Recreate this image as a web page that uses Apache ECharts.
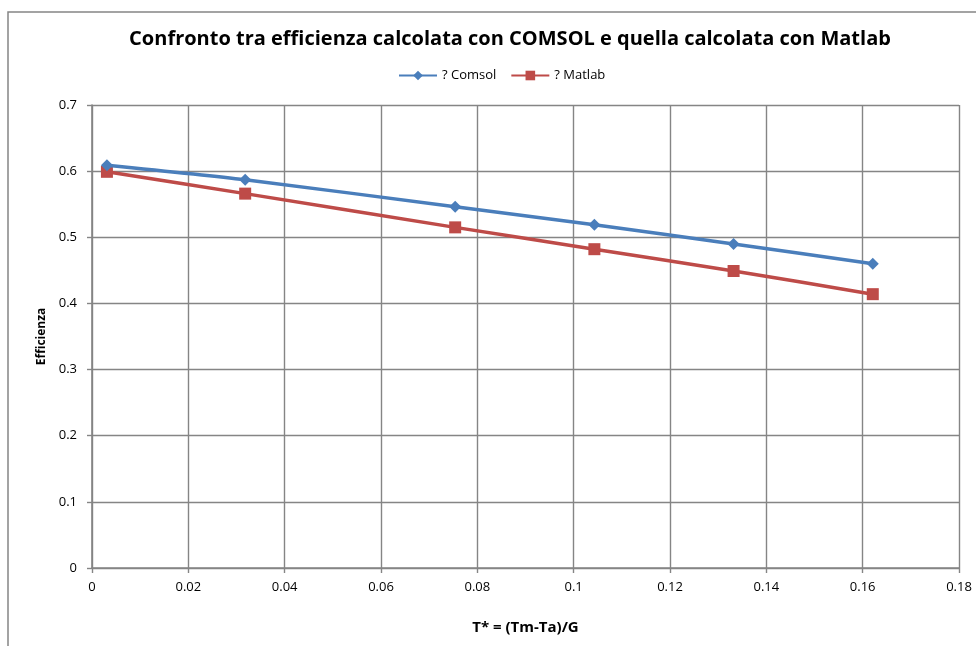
<!DOCTYPE html>
<html>
<head>
<meta charset="utf-8">
<script src="https://cdn.jsdelivr.net/npm/echarts@6/dist/echarts.min.js"></script>
<style>
html, body { margin: 0; padding: 0; background: #ffffff; }
#chart { width: 976px; height: 646px; }
</style>
</head>
<body>
<div id="chart"></div>
<script>
// T* = (Tm-Ta)/G
const tStar = [0.0031, 0.0318, 0.0754, 0.1043, 0.1332, 0.1621];
const effComsol = [0.609, 0.587, 0.546, 0.519, 0.490, 0.460];
const effMatlab = [0.599, 0.566, 0.515, 0.482, 0.449, 0.414];

const font = "'Open Sans', 'Liberation Sans', sans-serif";
const gridColor = "#858585";

const pairs = (xs, ys) => xs.map((x, i) => [x, ys[i]]);

const chart = echarts.init(document.getElementById("chart"));
chart.setOption({
  animation: false,
  backgroundColor: "#ffffff",
  title: {
    text: "Confronto tra efficienza calcolata con COMSOL e quella calcolata con Matlab",
    left: 505,
    textAlign: "center",
    top: 24,
    textStyle: {
      fontFamily: font,
      fontSize: 20,
      fontWeight: "bold",
      color: "#000000",
    },
  },
  legend: {
    top: 64,
    left: 393,
    itemWidth: 38,
    itemHeight: 12,
    itemGap: 14,
    textStyle: {
      fontFamily: font,
      fontSize: 13,
      color: "#000000",
    },
    data: ["? Comsol", "? Matlab"],
  },
  grid: {
    left: 92,
    right: 17,
    top: 105,
    bottom: 78,
  },
  xAxis: {
    type: "value",
    min: 0,
    max: 0.18,
    interval: 0.02,
    name: "T* = (Tm-Ta)/G",
    nameLocation: "middle",
    nameGap: 52,
    nameTextStyle: {
      fontFamily: font,
      fontSize: 15,
      fontWeight: "bold",
      color: "#000000",
    },
    axisLine: { show: true, onZero: false, lineStyle: { color: gridColor, width: 1.6 } },
    axisTick: { show: true, length: 5, lineStyle: { color: gridColor, width: 1.4 } },
    splitLine: { show: true, lineStyle: { color: gridColor, width: 1.4 } },
    axisLabel: {
      fontFamily: font,
      fontSize: 13,
      color: "#000000",
      margin: 13,
      formatter: function (v) { return String(+v.toFixed(2)); },
    },
  },
  yAxis: {
    type: "value",
    min: 0,
    max: 0.7,
    interval: 0.1,
    name: "Efficienza",
    nameLocation: "middle",
    nameRotate: 90,
    nameGap: 42,
    nameTextStyle: {
      fontFamily: font,
      fontSize: 12,
      fontWeight: "bold",
      color: "#000000",
    },
    axisLine: { show: true, lineStyle: { color: gridColor, width: 1.6 } },
    axisTick: { show: true, length: 5, lineStyle: { color: gridColor, width: 1.4 } },
    splitLine: { show: true, lineStyle: { color: gridColor, width: 1.4 } },
    axisLabel: {
      fontFamily: font,
      fontSize: 13,
      color: "#000000",
      margin: 15,
      formatter: function (v) { return String(+v.toFixed(1)); },
    },
  },
  series: [
    {
      name: "? Comsol",
      type: "line",
      smooth: 0.25,
      data: pairs(tStar, effComsol),
      symbol: "diamond",
      symbolSize: 12,
      itemStyle: { color: "#4A7EBB" },
      lineStyle: { width: 3.5, color: "#4A7EBB" },
      z: 3,
    },
    {
      name: "? Matlab",
      type: "line",
      smooth: 0.25,
      data: pairs(tStar, effMatlab),
      symbol: "rect",
      symbolSize: 12,
      itemStyle: { color: "#BE4B48" },
      lineStyle: { width: 3.5, color: "#BE4B48" },
      z: 2,
    },
  ],
  graphic: [
    {
      type: "rect",
      shape: { x: 8, y: 12, width: 980, height: 650 },
      style: { fill: "none", stroke: "#858585", lineWidth: 1.5 },
      silent: true,
      z: -1,
    },
  ],
});
</script>
</body>
</html>
